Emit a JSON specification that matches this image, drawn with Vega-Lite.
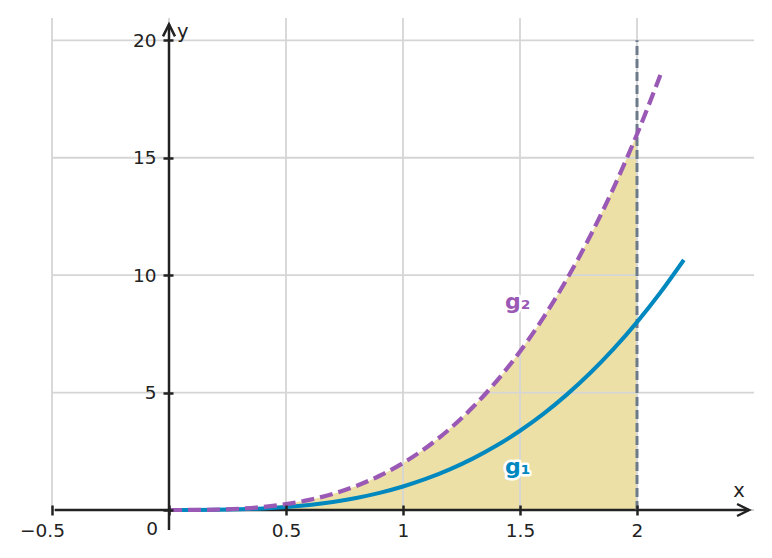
{
  "$schema": "https://vega.github.io/schema/vega-lite/v6.json",
  "width": 702,
  "height": 492,
  "autosize": "none",
  "padding": {"left": 52, "top": 18, "right": 18, "bottom": 48},
  "background": "white",
  "config": {
    "view": {"stroke": null},
    "font": "DejaVu Sans",
    "axis": {"title": null, "grid": false, "domain": false, "labelFlush": false, "labelOverlap": false}
  },
  "datasets": {
    "curve": [
      {"x": 0, "g1": 0, "g2": 0},
      {"x": 0.1, "g1": 0.001, "g2": 0.002},
      {"x": 0.2, "g1": 0.008, "g2": 0.016},
      {"x": 0.3, "g1": 0.027, "g2": 0.054},
      {"x": 0.4, "g1": 0.064, "g2": 0.128},
      {"x": 0.5, "g1": 0.125, "g2": 0.25},
      {"x": 0.6, "g1": 0.216, "g2": 0.432},
      {"x": 0.7, "g1": 0.343, "g2": 0.686},
      {"x": 0.8, "g1": 0.512, "g2": 1.024},
      {"x": 0.9, "g1": 0.729, "g2": 1.458},
      {"x": 1.0, "g1": 1, "g2": 2},
      {"x": 1.1, "g1": 1.331, "g2": 2.662},
      {"x": 1.2, "g1": 1.728, "g2": 3.456},
      {"x": 1.3, "g1": 2.197, "g2": 4.394},
      {"x": 1.4, "g1": 2.744, "g2": 5.488},
      {"x": 1.5, "g1": 3.375, "g2": 6.75},
      {"x": 1.6, "g1": 4.096, "g2": 8.192},
      {"x": 1.7, "g1": 4.913, "g2": 9.826},
      {"x": 1.8, "g1": 5.832, "g2": 11.664},
      {"x": 1.9, "g1": 6.859, "g2": 13.718},
      {"x": 2.0, "g1": 8, "g2": 16},
      {"x": 2.1, "g1": 9.261, "g2": 18.522},
      {"x": 2.2, "g1": 10.648, "g2": 21.296}
    ],
    "gridX": [{"v": -0.5}, {"v": 0}, {"v": 0.5}, {"v": 1}, {"v": 1.5}, {"v": 2}],
    "gridY": [{"v": 0}, {"v": 5}, {"v": 10}, {"v": 15}, {"v": 20}],
    "axisX": [{"x": -0.488, "x2": 2.479, "y": 0}],
    "axisY": [{"x": 0, "y": -0.85, "y2": 20.68}],
    "arrows": [{"x": 2.479, "y": 0, "dir": "right"}, {"x": 0, "y": 20.68, "dir": "up"}],
    "vline": [{"x": 2, "y": 0, "y2": 20}],
    "labels": [
      {"x": 1.49, "y": 8.85, "t": "g₂", "s": "g2"},
      {"x": 1.49, "y": 1.83, "t": "g₁", "s": "g1"}
    ],
    "ylab": [{"x": 0, "y": 20.68, "t": "y"}],
    "xlab": [{"x": 2.479, "y": 0, "t": "x"}],
    "zlab": [{"x": 0, "y": 0, "t": "0"}]
  },
  "layer": [
    {
      "data": {"name": "curve"},
      "transform": [{"filter": "datum.x <= 2.0001"}],
      "mark": {"type": "area", "color": "#ede0a6", "interpolate": "monotone", "opacity": 1},
      "encoding": {
        "x": {
          "field": "x", "type": "quantitative",
          "scale": {"domain": [-0.5, 2.5], "nice": false, "zero": false},
          "axis": {
            "title": null, "values": [-0.5, 0, 0.5, 1, 1.5, 2], "format": "~g", "grid": false, "domain": false,
            "offset": -5, "tickSize": 10, "tickWidth": 2.5, "tickColor": "#222222",
            "labelFontSize": 18.5, "labelColor": "#222222", "labelPadding": 6,
            "labelFont": "DejaVu Sans", "labelFlush": false, "labelOverlap": false,
            "labelOffset": {"condition": {"test": "datum.value < 0", "value": -10}, "value": 0},
            "labelExpr": "datum.value == 0 ? '' : datum.label", "zindex": 1
          }
        },
        "y": {
          "field": "g2", "type": "quantitative", "stack": null,
          "scale": {"domain": [0, 20.95], "nice": false},
          "axis": {
            "title": null, "values": [0, 5, 10, 15, 20], "format": "~g", "grid": false, "domain": false,
            "offset": -121, "tickSize": 10, "tickWidth": 2.5, "tickColor": "#222222",
            "labelFontSize": 18.5, "labelColor": "#222222", "labelPadding": 7,
            "labelFont": "DejaVu Sans", "labelFlush": false, "labelOverlap": false,
            "labelExpr": "datum.value == 0 ? '' : datum.label", "zindex": 1
          }
        }
      }
    },
    {
      "data": {"name": "gridX"},
      "mark": {"type": "rule", "color": "#d5d5d5", "strokeWidth": 1.8},
      "encoding": {"x": {"field": "v", "type": "quantitative"}}
    },
    {
      "data": {"name": "gridY"},
      "mark": {"type": "rule", "color": "#d5d5d5", "strokeWidth": 1.8},
      "encoding": {"y": {"field": "v", "type": "quantitative"}}
    },
    {
      "data": {"name": "axisX"},
      "mark": {"type": "rule", "color": "#222222", "strokeWidth": 2.5},
      "encoding": {
        "x": {"field": "x", "type": "quantitative"},
        "x2": {"field": "x2"},
        "y": {"field": "y", "type": "quantitative"}
      }
    },
    {
      "data": {"name": "axisY"},
      "mark": {"type": "rule", "color": "#222222", "strokeWidth": 2.5},
      "encoding": {
        "x": {"field": "x", "type": "quantitative"},
        "y": {"field": "y", "type": "quantitative"},
        "y2": {"field": "y2"}
      }
    },
    {
      "data": {"name": "arrows"},
      "mark": {"type": "point", "filled": false, "stroke": "#222222", "strokeWidth": 2.5, "size": 144, "opacity": 1},
      "encoding": {
        "x": {"field": "x", "type": "quantitative"},
        "y": {"field": "y", "type": "quantitative"},
        "shape": {
          "field": "dir", "type": "nominal", "legend": null,
          "scale": {"domain": ["right", "up"], "range": ["M-2,-1L0,0L-2,1", "M-1,2L0,0L1,2"]}
        }
      }
    },
    {
      "data": {"name": "vline"},
      "mark": {"type": "rule", "color": "#6c7a89", "strokeWidth": 3, "strokeDash": [9, 4]},
      "encoding": {
        "x": {"field": "x", "type": "quantitative"},
        "y": {"field": "y", "type": "quantitative"},
        "y2": {"field": "y2"}
      }
    },
    {
      "data": {"name": "curve"},
      "mark": {"type": "line", "color": "#0088bf", "strokeWidth": 4, "interpolate": "monotone"},
      "encoding": {
        "x": {"field": "x", "type": "quantitative"},
        "y": {"field": "g1", "type": "quantitative"}
      }
    },
    {
      "data": {"name": "curve"},
      "transform": [{"filter": "datum.x <= 2.1001"}],
      "mark": {"type": "line", "color": "#9b59b6", "strokeWidth": 4.2, "interpolate": "monotone", "strokeDash": [13, 6]},
      "encoding": {
        "x": {"field": "x", "type": "quantitative"},
        "y": {"field": "g2", "type": "quantitative"}
      }
    },
    {
      "data": {"name": "labels"},
      "mark": {"type": "text", "fontSize": 22, "fontWeight": "bold", "color": "white", "stroke": "white", "strokeWidth": 5, "strokeJoin": "round", "align": "center", "baseline": "middle"},
      "encoding": {
        "x": {"field": "x", "type": "quantitative"},
        "y": {"field": "y", "type": "quantitative"},
        "text": {"field": "t"}
      }
    },
    {
      "data": {"name": "labels"},
      "mark": {"type": "text", "fontSize": 22, "fontWeight": "bold", "align": "center", "baseline": "middle"},
      "encoding": {
        "x": {"field": "x", "type": "quantitative"},
        "y": {"field": "y", "type": "quantitative"},
        "text": {"field": "t"},
        "color": {"field": "s", "type": "nominal", "legend": null, "scale": {"domain": ["g1", "g2"], "range": ["#0088bf", "#9b59b6"]}}
      }
    },
    {
      "data": {"name": "ylab"},
      "mark": {"type": "text", "fontSize": 19.5, "color": "#222222", "align": "left", "baseline": "alphabetic", "dx": 8, "dy": 14},
      "encoding": {
        "x": {"field": "x", "type": "quantitative"},
        "y": {"field": "y", "type": "quantitative"},
        "text": {"field": "t"}
      }
    },
    {
      "data": {"name": "xlab"},
      "mark": {"type": "text", "fontSize": 19.5, "color": "#222222", "align": "center", "baseline": "alphabetic", "dx": -10, "dy": -13},
      "encoding": {
        "x": {"field": "x", "type": "quantitative"},
        "y": {"field": "y", "type": "quantitative"},
        "text": {"field": "t"}
      }
    },
    {
      "data": {"name": "zlab"},
      "mark": {"type": "text", "fontSize": 18.5, "color": "#222222", "align": "right", "baseline": "alphabetic", "dx": -11, "dy": 25},
      "encoding": {
        "x": {"field": "x", "type": "quantitative"},
        "y": {"field": "y", "type": "quantitative"},
        "text": {"field": "t"}
      }
    }
  ]
}
